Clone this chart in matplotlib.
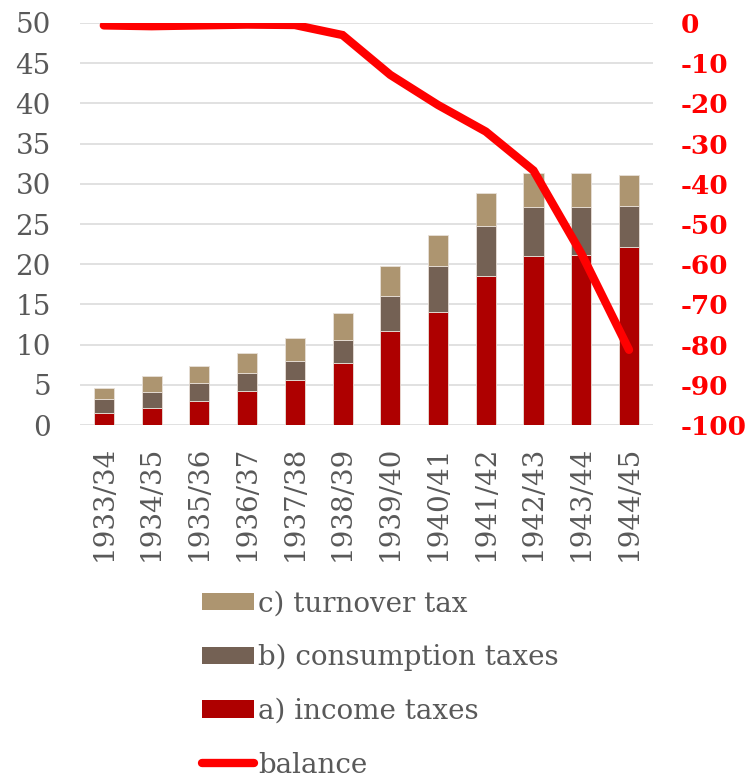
import numpy as np
import matplotlib
matplotlib.use('Agg')
import matplotlib.pyplot as plt
from matplotlib.patches import Patch
from matplotlib.lines import Line2D

plt.rcParams['font.family'] = 'DejaVu Serif'
plt.rcParams['axes.unicode_minus'] = False

years = ['1933/34', '1934/35', '1935/36', '1936/37', '1937/38', '1938/39',
         '1939/40', '1940/41', '1941/42', '1942/43', '1943/44', '1944/45']
income = [1.45, 2.07, 3.03, 4.27, 5.56, 7.75, 11.73, 14.1, 18.57, 20.98, 21.2, 22.1]
consumption = [1.75, 2.08, 2.23, 2.23, 2.44, 2.82, 4.35, 5.63, 6.13, 6.17, 5.95, 5.2]
turnover = [1.4, 1.95, 2.04, 2.46, 2.86, 3.36, 3.72, 3.9, 4.16, 4.19, 4.19, 3.8]
balance = [-0.6, -0.8, -0.6, -0.4, -0.5, -3.0, -12.9, -20.4, -27.0, -36.7, -57.3, -81.3]

c_income = '#ae0000'
c_cons = '#746154'
c_turn = '#ad9570'
c_line = '#ff0000'
c_text = '#595959'

fig = plt.figure(figsize=(7.47, 7.82), dpi=100)
ax = fig.add_axes([0.107, 0.4565, 0.767, 0.5141])
x = np.arange(len(years))
w = 0.42
ec = '#e8e0d8'
ax.bar(x, income, w, color=c_income, edgecolor=ec, linewidth=0.6, zorder=2)
b2 = np.array(income)
ax.bar(x, consumption, w, bottom=b2, color=c_cons, edgecolor=ec, linewidth=0.6, zorder=2)
b3 = b2 + np.array(consumption)
ax.bar(x, turnover, w, bottom=b3, color=c_turn, edgecolor=ec, linewidth=0.6, zorder=2)

ax.set_ylim(0, 50)
ax.set_xlim(-0.5, len(years) - 0.5)
ax.set_yticks(np.arange(0, 51, 5))
ax.yaxis.grid(True, color='#d9d9d9', linewidth=1.1, zorder=0)
ax.set_axisbelow(True)
for s in ax.spines.values():
    s.set_visible(False)
ax.set_xticks(x)
ax.set_xticklabels(years, rotation=90, fontsize=20, color=c_text)
ax.tick_params(axis='x', length=0, pad=15)
ax.tick_params(axis='y', length=0, pad=21, labelsize=20, labelcolor=c_text)

ax2 = ax.twinx()
ax2.plot(x, balance, color=c_line, linewidth=6, solid_capstyle='round',
         solid_joinstyle='miter', zorder=3)
ax2.set_ylim(-100, 0)
ax2.set_yticks(np.arange(-100, 1, 10))
for s in ax2.spines.values():
    s.set_visible(False)
ax2.tick_params(axis='y', length=0, pad=20, labelsize=19, labelcolor=c_line)
for lab in ax2.get_yticklabels():
    lab.set_fontweight('bold')

handles = [Patch(facecolor=c_turn), Patch(facecolor=c_cons), Patch(facecolor=c_income),
           Line2D([0], [0], color=c_line, linewidth=6, solid_capstyle='round')]
labels = ['c) turnover tax', 'b) consumption taxes', 'a) income taxes', 'balance']
leg = fig.legend(handles, labels, loc='upper left', bbox_to_anchor=(0.27, 0.245),
                 frameon=False, fontsize=20, handlelength=1.87, handleheight=0.6,
                 handletextpad=0.15, labelspacing=0.96, borderaxespad=0, borderpad=0)
for t in leg.get_texts():
    t.set_color(c_text)

plt.savefig('out.png', dpi=100)
